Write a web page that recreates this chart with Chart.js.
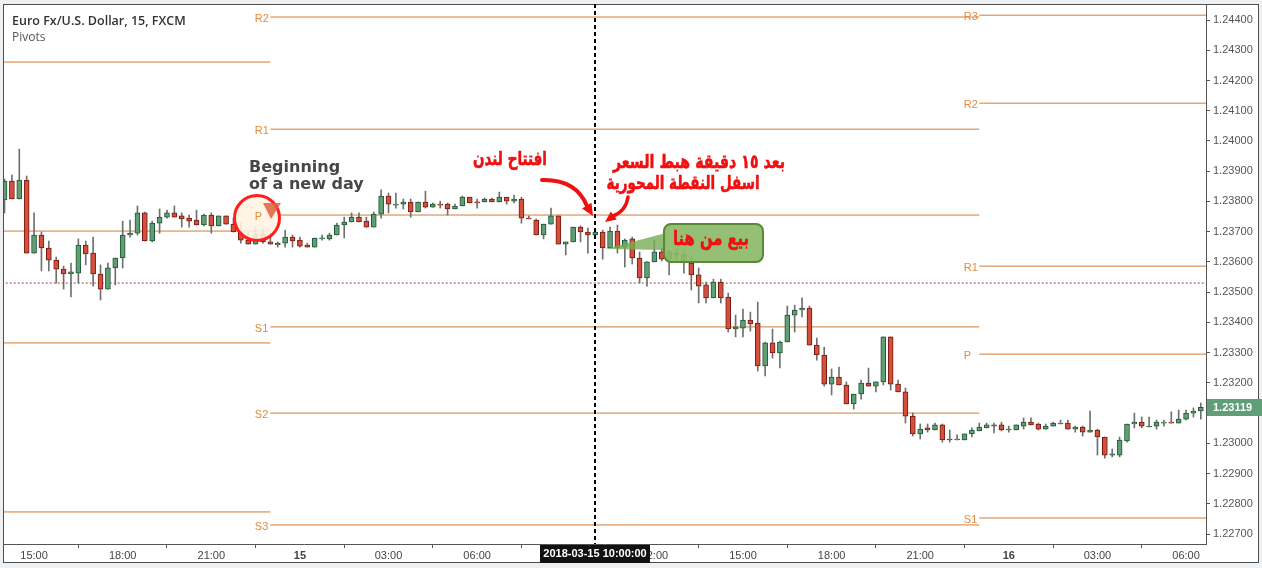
<!DOCTYPE html>
<html>
<head>
<meta charset="utf-8">
<script src="https://cdn.jsdelivr.net/npm/chart.js@4.4.1/dist/chart.umd.min.js"></script>
<style>
html, body { margin: 0; padding: 0; background: #eff0f2; }
#wrap { position: relative; width: 1262px; height: 568px; }
</style>
</head>
<body>
<div id="wrap"><canvas id="chart"></canvas></div>
<script>
// EUR/USD 15 min, FXCM, candles from 2018-03-14 14:00 (index 0) every 15 minutes
const opens = [
	1.23805, 1.23867, 1.23808, 1.23871, 1.23629, 1.23689, 1.23646, 1.23606, 1.23576, 1.23560,
	1.23563, 1.23656, 1.23629, 1.23560, 1.23510, 1.23580, 1.23613, 1.23689, 1.23695, 1.23762,
	1.23669, 1.23728, 1.23748, 1.23762, 1.23752, 1.23745, 1.23738, 1.23722, 1.23755, 1.23719,
	1.23752, 1.23725, 1.23699, 1.23672, 1.23659, 1.23692, 1.23666, 1.23656, 1.23662, 1.23682,
	1.23672, 1.23656, 1.23649, 1.23676, 1.23676, 1.23689, 1.23722, 1.23732, 1.23748, 1.23735,
	1.23715, 1.23758, 1.23818, 1.23788, 1.23791, 1.23798, 1.23765, 1.23798, 1.23781, 1.23791,
	1.23791, 1.23775, 1.23785, 1.23814, 1.23798, 1.23798, 1.23808, 1.23798, 1.23814, 1.23801,
	1.23808, 1.23745, 1.23738, 1.23689, 1.23725, 1.23752, 1.23659, 1.23666, 1.23715, 1.23699,
	1.23689, 1.23699, 1.23646, 1.23702, 1.23649, 1.23676, 1.23613, 1.23547, 1.23600, 1.23633,
	1.23609, 1.23629, 1.23623, 1.23596, 1.23557, 1.23524, 1.23481, 1.23533, 1.23484, 1.23378,
	1.23381, 1.23408, 1.23398, 1.23256, 1.23332, 1.23299, 1.23335, 1.23424, 1.23441, 1.23447,
	1.23325, 1.23292, 1.23196, 1.23219, 1.23193, 1.23130, 1.23163, 1.23199, 1.23189, 1.23203,
	1.23352, 1.23196, 1.23170, 1.23090, 1.23031, 1.23051, 1.23044, 1.23061, 1.23014, 1.23011,
	1.23011, 1.23031, 1.23041, 1.23051, 1.23057, 1.23061, 1.23044, 1.23044, 1.23057, 1.23070,
	1.23064, 1.23047, 1.23057, 1.23064, 1.23067, 1.23047, 1.23054, 1.23037, 1.23044, 1.23021,
	1.22961, 1.22961, 1.23008, 1.23064, 1.23070, 1.23054, 1.23057, 1.23067, 1.23070, 1.23067,
	1.23080, 1.23100, 1.23107
]
const highs = [
	1.23874, 1.23887, 1.23973, 1.23884, 1.23762, 1.23699, 1.23669, 1.23616, 1.23586, 1.23596,
	1.23676, 1.23669, 1.23682, 1.23590, 1.23596, 1.23613, 1.23735, 1.23738, 1.23785, 1.23765,
	1.23735, 1.23775, 1.23771, 1.23785, 1.23762, 1.23755, 1.23771, 1.23758, 1.23762, 1.23752,
	1.23752, 1.23745, 1.23732, 1.23699, 1.23715, 1.23709, 1.23695, 1.23666, 1.23705, 1.23689,
	1.23682, 1.23662, 1.23679, 1.23689, 1.23695, 1.23728, 1.23748, 1.23762, 1.23762, 1.23748,
	1.23765, 1.23838, 1.23828, 1.23828, 1.23808, 1.23808, 1.23798, 1.23834, 1.23795, 1.23801,
	1.23795, 1.23791, 1.23818, 1.23814, 1.23808, 1.23811, 1.23811, 1.23831, 1.23814, 1.23821,
	1.23814, 1.23752, 1.23742, 1.23725, 1.23778, 1.23752, 1.23666, 1.23715, 1.23719, 1.23712,
	1.23705, 1.23705, 1.23715, 1.23722, 1.23676, 1.23682, 1.23633, 1.23600, 1.23672, 1.23646,
	1.23639, 1.23646, 1.23639, 1.23623, 1.23580, 1.23533, 1.23543, 1.23543, 1.23497, 1.23424,
	1.23444, 1.23434, 1.23467, 1.23335, 1.23378, 1.23338, 1.23454, 1.23457, 1.23481, 1.23454,
	1.23348, 1.23318, 1.23246, 1.23252, 1.23203, 1.23163, 1.23209, 1.23249, 1.23203, 1.23352,
	1.23352, 1.23209, 1.23183, 1.23100, 1.23064, 1.23064, 1.23067, 1.23064, 1.23044, 1.23028,
	1.23031, 1.23051, 1.23067, 1.23067, 1.23067, 1.23070, 1.23057, 1.23061, 1.23084, 1.23084,
	1.23067, 1.23064, 1.23070, 1.23077, 1.23077, 1.23057, 1.23057, 1.23107, 1.23047, 1.23021,
	1.22981, 1.23021, 1.23064, 1.23100, 1.23087, 1.23087, 1.23077, 1.23077, 1.23104, 1.23110,
	1.23110, 1.23117, 1.23133
]
const lows = [
	1.23762, 1.23808, 1.23808, 1.23629, 1.23629, 1.23570, 1.23570, 1.23530, 1.23510, 1.23484,
	1.23530, 1.23590, 1.23520, 1.23474, 1.23510, 1.23524, 1.23580, 1.23682, 1.23689, 1.23669,
	1.23666, 1.23695, 1.23745, 1.23748, 1.23715, 1.23715, 1.23722, 1.23719, 1.23695, 1.23719,
	1.23725, 1.23699, 1.23662, 1.23659, 1.23659, 1.23662, 1.23659, 1.23649, 1.23649, 1.23649,
	1.23649, 1.23649, 1.23649, 1.23672, 1.23672, 1.23689, 1.23679, 1.23732, 1.23732, 1.23715,
	1.23715, 1.23745, 1.23762, 1.23778, 1.23775, 1.23748, 1.23765, 1.23778, 1.23781, 1.23778,
	1.23755, 1.23775, 1.23785, 1.23795, 1.23778, 1.23798, 1.23798, 1.23798, 1.23791, 1.23795,
	1.23728, 1.23742, 1.23689, 1.23676, 1.23725, 1.23659, 1.23623, 1.23666, 1.23666, 1.23629,
	1.23679, 1.23609, 1.23646, 1.23629, 1.23583, 1.23593, 1.23530, 1.23520, 1.23600, 1.23603,
	1.23557, 1.23600, 1.23563, 1.23507, 1.23464, 1.23464, 1.23481, 1.23464, 1.23368, 1.23352,
	1.23352, 1.23371, 1.23239, 1.23223, 1.23282, 1.23249, 1.23335, 1.23368, 1.23418, 1.23325,
	1.23275, 1.23189, 1.23160, 1.23193, 1.23130, 1.23113, 1.23146, 1.23189, 1.23170, 1.23193,
	1.23176, 1.23170, 1.23067, 1.23024, 1.23014, 1.23037, 1.23044, 1.23004, 1.23004, 1.23011,
	1.23011, 1.23021, 1.23041, 1.23051, 1.23034, 1.23041, 1.23037, 1.23044, 1.23047, 1.23061,
	1.23044, 1.23047, 1.23057, 1.23064, 1.23047, 1.23037, 1.23024, 1.23037, 1.22961, 1.22951,
	1.22955, 1.22955, 1.23004, 1.23051, 1.23051, 1.23054, 1.23047, 1.23057, 1.23067, 1.23067,
	1.23077, 1.23087, 1.23080
]
const closes = [
	1.23867, 1.23808, 1.23871, 1.23629, 1.23689, 1.23646, 1.23606, 1.23576, 1.23560, 1.23567,
	1.23656, 1.23626, 1.23560, 1.23510, 1.23580, 1.23613, 1.23689, 1.23695, 1.23762, 1.23669,
	1.23728, 1.23748, 1.23762, 1.23748, 1.23742, 1.23735, 1.23722, 1.23755, 1.23719, 1.23752,
	1.23725, 1.23699, 1.23672, 1.23659, 1.23692, 1.23666, 1.23659, 1.23662, 1.23682, 1.23669,
	1.23652, 1.23649, 1.23679, 1.23679, 1.23689, 1.23722, 1.23732, 1.23748, 1.23732, 1.23715,
	1.23758, 1.23818, 1.23791, 1.23791, 1.23798, 1.23765, 1.23798, 1.23781, 1.23791, 1.23788,
	1.23775, 1.23785, 1.23814, 1.23795, 1.23795, 1.23808, 1.23798, 1.23814, 1.23801, 1.23808,
	1.23745, 1.23742, 1.23689, 1.23725, 1.23752, 1.23659, 1.23666, 1.23715, 1.23699, 1.23689,
	1.23699, 1.23646, 1.23702, 1.23646, 1.23672, 1.23613, 1.23547, 1.23600, 1.23633, 1.23609,
	1.23633, 1.23623, 1.23600, 1.23557, 1.23520, 1.23481, 1.23533, 1.23481, 1.23378, 1.23385,
	1.23408, 1.23395, 1.23256, 1.23332, 1.23299, 1.23335, 1.23424, 1.23441, 1.23447, 1.23325,
	1.23292, 1.23196, 1.23219, 1.23193, 1.23130, 1.23163, 1.23199, 1.23189, 1.23203, 1.23352,
	1.23196, 1.23170, 1.23090, 1.23031, 1.23047, 1.23044, 1.23061, 1.23011, 1.23011, 1.23014,
	1.23031, 1.23044, 1.23054, 1.23061, 1.23061, 1.23044, 1.23047, 1.23061, 1.23070, 1.23061,
	1.23047, 1.23057, 1.23067, 1.23067, 1.23047, 1.23054, 1.23037, 1.23044, 1.23021, 1.22961,
	1.22965, 1.23011, 1.23064, 1.23070, 1.23057, 1.23057, 1.23070, 1.23070, 1.23067, 1.23080,
	1.23100, 1.23107, 1.23119
]

// time axis: candle index of each label
const timeTicks = [4, 16, 28, 40, 52, 64, 76, 88, 100, 112, 124, 136, 148, 160]
const timeLabels = ["15:00", "18:00", "21:00", "15", "03:00", "06:00", "09:00", "12:00", "15:00", "18:00", "21:00", "16", "03:00", "06:00"]
const priceTicks = [1.227, 1.228, 1.229, 1.230, 1.231, 1.232, 1.233, 1.234, 1.235, 1.236, 1.237, 1.238, 1.239, 1.240, 1.241, 1.242, 1.243, 1.244]

// daily pivots: [first candle index, last candle index] and levels
const pivotRanges = [[-2, 36], [36, 132], [132, 170]]
const pivotsMar14 = [["R1", 1.24261], ["P", 1.23702], ["S1", 1.23332], ["S2", 1.22773]]
const pivotsMar15 = [["R2", 1.24410], ["R1", 1.24039], ["P", 1.23755], ["S1", 1.23385], ["S2", 1.23100], ["S3", 1.22730]]
const pivotsMar16 = [["R3", 1.24416], ["R2", 1.24125], ["R1", 1.23586], ["P", 1.23295], ["S1", 1.22753]]
const pivotDays = [pivotsMar14, pivotsMar15, pivotsMar16]

const dottedLevel = 1.23530
const crossIndex = 80
const crossLabel = "2018-03-15 10:00:00"

const upFill = "#5f9e76", upLine = "#1f5632"
const downFill = "#d4503d", downLine = "#741a10"
const pivotColor = "#d57c34"

const isUp = opens.map((o, i) => closes[i] >= o)
const wickData = opens.map((o, i) => ({ x: i, y: [lows[i], highs[i]] }))
const bodyData = opens.map((o, i) => ({ x: i, y: [o, closes[i]] }))

const pivotSets = []
pivotDays.forEach((day, d) => {
	day.forEach(([name, value]) => {
		pivotSets.push({
			type: "line",
			data: [{ x: pivotRanges[d][0], y: value }, { x: pivotRanges[d][1], y: value }],
			borderColor: pivotColor,
			borderWidth: 1,
			pointRadius: 0,
			order: 5
		})
	})
})

// draw text at a given height and squeeze it to the width seen in the picture
function fitText(c, text, cx, cy, width, size, color) {
	c.font = "bold " + size + "px 'DejaVu Sans'"
	const w = c.measureText(text).width
	c.save()
	c.translate(cx, cy)
	c.scale(width / w, 1)
	c.fillStyle = color
	c.strokeStyle = color
	c.lineWidth = 0.6
	c.textAlign = "center"
	c.textBaseline = "middle"
	c.fillText(text, 0, 0)
	c.strokeText(text, 0, 0)
	c.restore()
}

function arrow(c, pts, tip, width, headW) {
	c.strokeStyle = "#f01010"
	c.fillStyle = "#f01010"
	c.lineWidth = width
	c.lineCap = "round"
	c.beginPath()
	c.moveTo(pts[0][0], pts[0][1])
	c.quadraticCurveTo(pts[1][0], pts[1][1], pts[2][0], pts[2][1])
	c.stroke()
	const ang = Math.atan2(tip[1] - pts[2][1], tip[0] - pts[2][0])
	const bx = tip[0] - Math.cos(ang) * headW * 1.1
	const by = tip[1] - Math.sin(ang) * headW * 1.1
	c.beginPath()
	c.moveTo(tip[0], tip[1])
	c.lineTo(bx + Math.sin(ang) * headW / 2, by - Math.cos(ang) * headW / 2)
	c.lineTo(bx - Math.sin(ang) * headW / 2, by + Math.cos(ang) * headW / 2)
	c.closePath()
	c.fill()
}

const overlay = {
	id: "overlay",
	beforeDraw(chart) {
		const c = chart.ctx
		c.save()
		c.fillStyle = "#eff0f2"
		c.fillRect(0, 0, chart.width, chart.height)
		c.fillStyle = "#ffffff"
		c.fillRect(3, 4, 1256, 559)
		c.strokeStyle = "#4d4d4d"
		c.lineWidth = 1
		c.strokeRect(3.5, 4.5, 1255, 558)
		c.restore()
	},
	afterDatasetsDraw(chart) {
		const c = chart.ctx
		const xs = chart.scales.x, ys = chart.scales.y
		const area = chart.chartArea
		c.save()

		// circle round the new day pivot
		c.beginPath()
		c.arc(257, 218, 22.5, 0, Math.PI * 2)
		c.fillStyle = "rgba(255,243,225,0.88)"
		c.fill()
		c.lineWidth = 3
		c.strokeStyle = "#ff1f1f"
		c.stroke()

		// pivot names
		c.font = "11px 'Liberation Sans', Arial, sans-serif"
		c.fillStyle = "#e38b3c"
		c.textAlign = "left"
		c.textBaseline = "middle"
		pivotDays.forEach((day, d) => {
			const x0 = xs.getPixelForValue(pivotRanges[d][0])
			if (x0 < area.left) return
			day.forEach(([name, value]) => {
				c.fillText(name, x0 - 15.5, ys.getPixelForValue(value) + 2)
			})
		})

		// small arrow in the circle
		c.fillStyle = "rgba(222,96,64,0.85)"
		c.beginPath()
		c.moveTo(263, 203)
		c.lineTo(281, 203)
		c.lineTo(271, 219)
		c.closePath()
		c.fill()

		// crosshair
		const cx = Math.round(xs.getPixelForValue(crossIndex))
		c.strokeStyle = "#000"
		c.lineWidth = 2
		c.setLineDash([4, 3])
		c.beginPath()
		c.moveTo(cx, area.top)
		c.lineTo(cx, area.bottom)
		c.stroke()
		c.setLineDash([])

		// notes
		c.font = "bold 16px 'DejaVu Sans'"
		c.fillStyle = "#474747"
		c.textAlign = "left"
		c.fillText("Beginning", 249, 168)
		c.fillText("of a new day", 249, 185)

		c.direction = "rtl"
		fitText(c, "افتتاح لندن", 510, 160, 74, 19, "#f01010")
		fitText(c, "بعد ١٥ دقيقة هبط السعر", 699, 163, 172, 19, "#f01010")
		fitText(c, "اسفل النقطة المحورية", 683, 184, 153, 19, "#f01010")
		c.direction = "ltr"

		arrow(c, [[542, 180], [576, 179], [587, 206]], [593, 216], 4, 11)
		arrow(c, [[628, 197], [626, 211], [613, 216]], [605, 222], 3.5, 10)

		// callout
		c.fillStyle = "rgba(118,172,84,0.8)"
		c.beginPath()
		c.moveTo(666, 233)
		c.lineTo(605, 249)
		c.lineTo(666, 250)
		c.closePath()
		c.fill()
		c.beginPath()
		c.roundRect(664, 224, 99, 38, 7)
		c.fillStyle = "rgba(140,186,104,0.92)"
		c.fill()
		c.lineWidth = 2
		c.strokeStyle = "#578a35"
		c.stroke()
		c.direction = "rtl"
		fitText(c, "بيع من هنا", 711, 240, 76, 20, "#f01010")
		c.direction = "ltr"

		c.restore()
	},
	afterDraw(chart) {
		const c = chart.ctx
		const xs = chart.scales.x, ys = chart.scales.y
		const area = chart.chartArea
		c.save()

		// last price tag
		const last = closes[closes.length - 1]
		const py = Math.round(ys.getPixelForValue(last))
		c.fillStyle = "#5f9e76"
		c.fillRect(area.right + 1, py - 8, chart.width - area.right - 1, 17)
		c.fillStyle = "#fff"
		c.font = "bold 11px 'Liberation Sans', Arial, sans-serif"
		c.textAlign = "left"
		c.textBaseline = "middle"
		c.fillText(last.toFixed(5), area.right + 7, py + 0.5)

		// crosshair time tag
		const cx = Math.round(xs.getPixelForValue(crossIndex))
		c.fillStyle = "#111"
		c.fillRect(cx - 55, area.bottom + 1, 110, 18)
		c.fillStyle = "#fff"
		c.textAlign = "center"
		c.fillText(crossLabel, cx, area.bottom + 10)

		// title
		c.textAlign = "left"
		c.fillStyle = "#333"
		c.font = "600 12.5px 'Open Sans', sans-serif"
		c.fillText("Euro Fx/U.S. Dollar, 15, FXCM", 12, 21)
		c.fillStyle = "#555"
		c.font = "12px 'Open Sans', sans-serif"
		c.fillText("Pivots", 12, 38)
		c.restore()
	}
}

new Chart(document.getElementById("chart"), {
	type: "bar",
	data: {
		datasets: [
			{
				data: bodyData,
				backgroundColor: isUp.map(u => u ? upFill : downFill),
				borderColor: isUp.map(u => u ? upLine : downLine),
				borderWidth: 1,
				borderSkipped: false,
				barThickness: 5,
				minBarLength: 1,
				grouped: false,
				order: 1
			},
			{
				data: wickData,
				backgroundColor: "#707070",
				barThickness: 1,
				grouped: false,
				order: 2
			},
			{
				type: "line",
				data: [{ x: -2, y: dottedLevel }, { x: 170, y: dottedLevel }],
				borderColor: "#a8402d",
				borderWidth: 1,
				borderDash: [2, 2],
				pointRadius: 0,
				order: 4
			},
			...pivotSets
		]
	},
	options: {
		responsive: true,
		maintainAspectRatio: false,
		animation: false,
		layout: { padding: { left: 4, top: 4, right: 3, bottom: 5 } },
		plugins: { legend: { display: false }, tooltip: { enabled: false } },
		scales: {
			x: {
				type: "linear",
				min: -0.07,
				max: 162.7,
				offset: false,
				grid: { drawOnChartArea: false, drawTicks: true, tickLength: 4, color: "#555" },
				border: { color: "#555" },
				afterBuildTicks: scale => { scale.ticks = timeTicks.map(v => ({ value: v })) },
				afterFit: scale => {
					scale.height = 19
					scale.paddingLeft = 0
					scale.paddingRight = 0
				},
				ticks: {
					autoSkip: false,
					maxRotation: 0,
					padding: 1,
					color: "#444",
					font: ctx => ({
						family: "'Liberation Sans', Arial, sans-serif",
						size: 11,
						weight: (ctx.tick && (ctx.tick.value === 40 || ctx.tick.value === 136)) ? "bold" : "normal"
					}),
					callback: (v, i) => timeLabels[i]
				}
			},
			y: {
				position: "right",
				min: 1.22667,
				max: 1.24453,
				grid: { drawOnChartArea: false, drawTicks: true, tickLength: 4, color: "#555" },
				border: { color: "#555" },
				afterBuildTicks: scale => { scale.ticks = priceTicks.map(v => ({ value: v })) },
				afterFit: scale => {
					scale.width = 53
					scale.paddingTop = 0
					scale.paddingBottom = 0
				},
				ticks: {
					padding: 3,
					color: "#555",
					font: { family: "'Liberation Sans', Arial, sans-serif", size: 11 },
					callback: v => v.toFixed(5)
				}
			}
		}
	},
	plugins: [overlay]
})
</script>
</body>
</html>
